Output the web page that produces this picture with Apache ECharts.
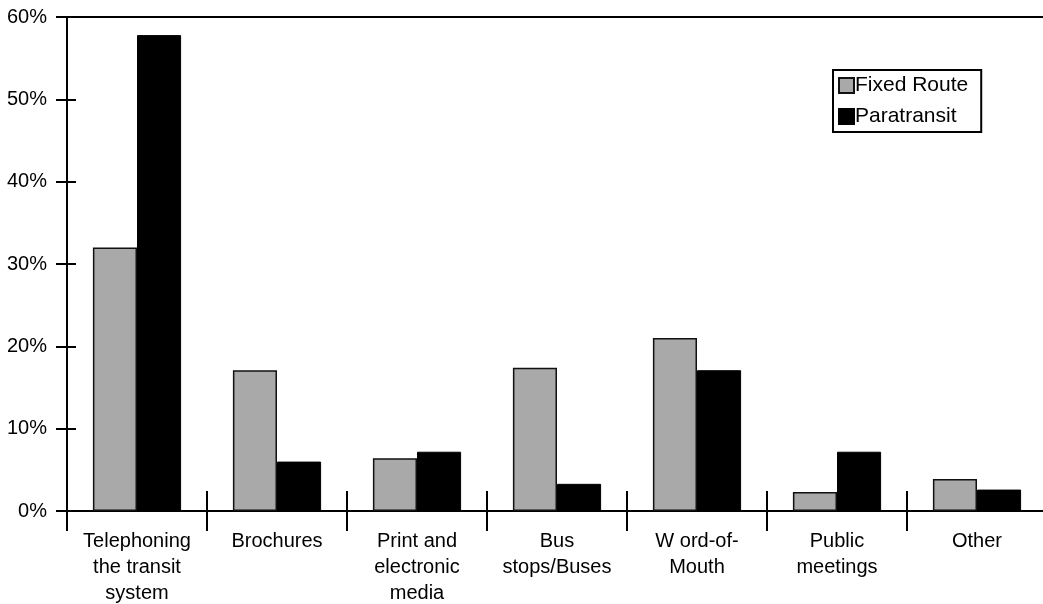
<!DOCTYPE html>
<html>
<head>
<meta charset="utf-8">
<script src="https://cdn.jsdelivr.net/npm/echarts@6/dist/echarts.min.js"></script>
<style>
  html, body { margin: 0; padding: 0; background: #fff; }
  #myChart { width: 1043px; height: 604px; }
</style>
</head>
<body>
<div id="myChart"></div>
<script>
// categories (x axis)
var categories = ['Telephoning\nthe transit\nsystem', 'Brochures', 'Print and\nelectronic\nmedia',
  'Bus\nstops/Buses', 'W ord-of-\nMouth', 'Public\nmeetings', 'Other'];
// percent values
var fixedRoute = [32.0, 17.1, 6.4, 17.4, 21.0, 2.3, 3.9];
var paratransit = [57.8, 6.0, 7.2, 3.3, 17.1, 7.2, 2.6];
var seriesNames = ['Fixed Route', 'Paratransit'];
// y axis ticks 0..60 step 10
var yMin = 0, yMax = 60, yStep = 10;

var font = 'Liberation Sans, Arial, Helvetica, sans-serif';

var option = {
  animation: false,
  backgroundColor: '#fff',
  textStyle: { fontFamily: font },
  grid: {
    left: 67, top: 17, right: -4, bottom: 93,
    outerBoundsMode: 'none',
    containLabel: false,
    show: true, borderColor: '#000', borderWidth: 2, backgroundColor: 'transparent'
  },
  legend: {
    data: seriesNames,
    orient: 'vertical',
    left: 833, top: 70,
    padding: [5, 13, 5, 5],
    itemGap: 10,
    itemWidth: 15, itemHeight: 15,
    icon: 'rect',
    borderColor: '#000', borderWidth: 2,
    backgroundColor: '#fff',
    textStyle: { fontSize: 21, color: '#000', fontFamily: font, padding: [0, 0, 0, -4] }
  },
  xAxis: [
    {
      type: 'category',
      data: categories,
      axisLine: { lineStyle: { color: '#000', width: 2 } },
      axisTick: { show: true, length: 20, lineStyle: { color: '#000', width: 2 } },
      axisLabel: { color: '#000', fontSize: 20, lineHeight: 26, margin: 17, interval: 0, fontFamily: font }
    },
    {
      // second copy only for the part of the separators above the axis
      type: 'category',
      position: 'bottom',
      data: categories,
      axisLine: { show: false },
      axisTick: { show: true, inside: true, length: 20, lineStyle: { color: '#000', width: 2 } },
      axisLabel: { show: false }
    }
  ],
  yAxis: [
    {
      type: 'value',
      min: yMin, max: yMax, interval: yStep,
      axisLine: { show: true, lineStyle: { color: '#000', width: 2 } },
      axisTick: { show: true, length: 11, lineStyle: { color: '#000', width: 2 } },
      splitLine: { show: false },
      axisLabel: { formatter: '{value}%', color: '#000', fontSize: 20, margin: 20, fontFamily: font }
    },
    {
      type: 'value',
      position: 'left',
      min: yMin, max: yMax, interval: yStep,
      axisLine: { show: false },
      axisTick: { show: true, inside: true, length: 9, lineStyle: { color: '#000', width: 2 } },
      splitLine: { show: false },
      axisLabel: { show: false }
    }
  ],
  series: [
    {
      name: seriesNames[0],
      type: 'bar',
      data: fixedRoute,
      barGap: '0%',
      barCategoryGap: '37%',
      itemStyle: { color: '#a9a9a9', borderColor: '#111', borderWidth: 1.5 }
    },
    {
      name: seriesNames[1],
      type: 'bar',
      data: paratransit,
      barGap: '0%',
      barCategoryGap: '37%',
      itemStyle: { color: '#000', borderColor: '#000', borderWidth: 1 }
    }
  ]
};

var myChart = echarts.init(document.getElementById('myChart'));
myChart.setOption(option);
</script>
</body>
</html>
